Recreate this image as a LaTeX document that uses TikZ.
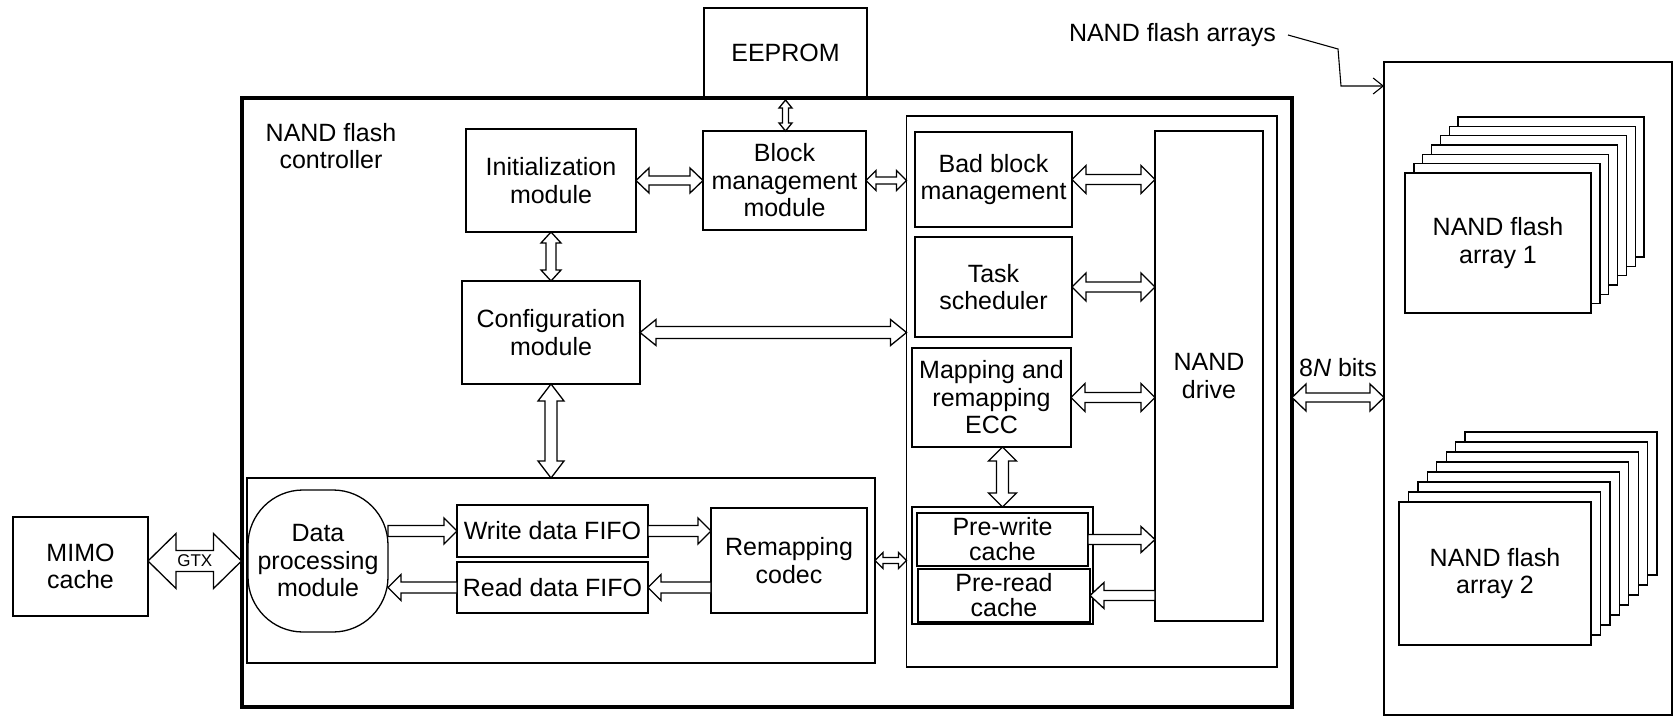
\documentclass[tikz,border=0pt]{standalone}
\usepackage{fontspec}
\setmainfont{Liberation Sans}
\usetikzlibrary{calc,arrows.meta}
\newcommand\mfs{\fontsize{25}{27.5}\selectfont}
\newcommand\cfs{\fontsize{25}{25}\selectfont}
% horizontal double-headed hollow arrow
\newcommand\hdbl[5]{\draw[blk] let \p1=(#1),\p2=(#2),\n1={sign(\x2-\x1)} in
 (\x1,\y1) -- ({\x1+(\n1)*#5},{\y1+#4}) -- ({\x1+(\n1)*#5},{\y1+#3}) -- ({\x2-(\n1)*#5},{\y1+#3}) -- ({\x2-(\n1)*#5},{\y1+#4}) -- (\x2,\y1) -- ({\x2-(\n1)*#5},{\y1-#4}) -- ({\x2-(\n1)*#5},{\y1-#3}) -- ({\x1+(\n1)*#5},{\y1-#3}) -- ({\x1+(\n1)*#5},{\y1-#4}) -- cycle;}
% vertical double-headed hollow arrow
\newcommand\vdbl[5]{\draw[blk] let \p1=(#1),\p2=(#2),\n1={sign(\y2-\y1)} in
 (\x1,\y1) -- ({\x1+#4},{\y1+(\n1)*#5}) -- ({\x1+#3},{\y1+(\n1)*#5}) -- ({\x1+#3},{\y2-(\n1)*#5}) -- ({\x1+#4},{\y2-(\n1)*#5}) -- (\x1,\y2) -- ({\x1-#4},{\y2-(\n1)*#5}) -- ({\x1-#3},{\y2-(\n1)*#5}) -- ({\x1-#3},{\y1+(\n1)*#5}) -- ({\x1-#4},{\y1+(\n1)*#5}) -- cycle;}
% horizontal single-headed hollow arrow (head at second point)
\newcommand\hsgl[5]{\draw[blk] let \p1=(#1),\p2=(#2),\n1={sign(\x2-\x1)} in
 (\x1,{\y1+#3}) -- ({\x2-(\n1)*#5},{\y1+#3}) -- ({\x2-(\n1)*#5},{\y1+#4}) -- (\x2,\y1) -- ({\x2-(\n1)*#5},{\y1-#4}) -- ({\x2-(\n1)*#5},{\y1-#3}) -- (\x1,{\y1-#3}) -- cycle;}
\begin{document}
\begin{tikzpicture}[x=1pt,y=-1pt,
  box/.style={draw, line width=1.3pt, inner sep=0pt, outer sep=0pt, align=center, font=\mfs},
  cont/.style={draw, line width=1.3pt, inner sep=0pt, outer sep=0pt},
  blk/.style={draw, fill=white, line width=1.3pt, line join=miter},
  lbl/.style={inner sep=0pt, outer sep=0pt, align=center, font=\mfs},
  layer/.style={draw, fill=white, line width=1.3pt}]
\useasboundingbox (0,0) rectangle (1675,718);

% containers
\node[cont, minimum width=288pt, minimum height=653pt] (arrbox) at (1528,388.5) {};
\node[cont, line width=4pt, minimum width=1050.5pt, minimum height=609pt] (outer) at (766.75,402.5) {};
\node[cont, minimum width=370.5pt, minimum height=551pt] (rbox) at (1091.75,391.5) {};
\node[cont, minimum width=628pt, minimum height=185pt] (dpbox) at (561,570.5) {};
\node[cont, line width=1.6pt, minimum width=181pt, minimum height=117pt] (cg) at (1002.5,565.5) {};

% blocks
\node[box, minimum width=163pt, minimum height=89pt] (eeprom) at (785.5,52.5) {EEPROM};
\node[lbl] (ctrl) at (331,146) {NAND flash\\controller};
\node[box, minimum width=170pt, minimum height=103pt] (init) at (551,180.5) {Initialization\\module};
\node[box, minimum width=163pt, minimum height=99pt] (block) at (784.5,180.5) {Block\\management\\module};
\node[box, minimum width=178pt, minimum height=103pt] (cfg) at (551,332.5) {Configuration\\module};
\node[box, minimum width=157pt, minimum height=95pt] (bad) at (993.5,179.5) {Bad block\\management};
\node[box, minimum width=157pt, minimum height=100pt] (task) at (993.5,287) {Task\\scheduler};
\node[box, minimum width=159pt, minimum height=99pt] (map) at (991.5,397.5) {Mapping and\\remapping\\ECC};
\node[box, line width=1.8pt, font=\cfs, minimum width=171pt, minimum height=53pt] (pw) at (1002.5,539.5) {Pre-write\\cache};
\node[box, line width=1.8pt, font=\cfs, minimum width=172pt, minimum height=53pt] (pr) at (1004,595.5) {Pre-read\\cache};
\node[box, minimum width=108pt, minimum height=490pt] (nand) at (1209,376) {NAND\\drive};
\node[box, rounded corners=55pt, minimum width=140pt, minimum height=142pt] (dp) at (318,561) {Data\\processing\\module};
\node[box, minimum width=191pt, minimum height=52pt] (wf) at (552.5,531) {Write data FIFO};
\node[box, minimum width=191pt, minimum height=51pt] (rf) at (552.5,587.5) {Read data FIFO};
\node[box, minimum width=156pt, minimum height=105pt] (codec) at (789,560.5) {Remapping\\codec};
\node[box, minimum width=135pt, minimum height=99pt] (mimo) at (80.5,566.5) {MIMO\\cache};

% flash array stacks
\foreach \i in {6,...,1}
  \draw[layer] ({1405+8.83*\i},{173-9.33*\i}) rectangle ++(186,140);
\node[box, fill=white, minimum width=186pt, minimum height=140pt] (arr1) at (1498,243) {NAND flash\\array 1};
\foreach \i in {7,...,1}
  \draw[layer] ({1399+9.43*\i},{502-10*\i}) rectangle ++(192,143);
\node[box, fill=white, minimum width=192pt, minimum height=143pt] (arr2) at (1495,573.5) {NAND flash\\array 2};

% label of the array box
\node[lbl, anchor=east] (arrlbl) at (1276,35) {NAND flash arrays};
\coordinate (k1) at (1338,49);
\coordinate (k2) at (1341,86);
\draw[line width=1.1pt, -{Straight Barb[length=10pt,width=16pt]}] ([xshift=12pt]arrlbl.east) -- (k1) -- (k2) -- (arrbox.west |- k2);

% hollow arrows
\vdbl{$(eeprom.south)+(0,3)$}{block.north}{3pt}{6.5pt}{8pt}
\hdbl{init.east}{block.west}{4.5pt}{12.5pt}{13pt}
\hdbl{block.east}{rbox.west |- block.east}{3.5pt}{10pt}{10pt}
\vdbl{init.south}{cfg.north}{5pt}{10pt}{11pt}
\hdbl{cfg.east}{rbox.west |- cfg.east}{6pt}{13pt}{16pt}
\vdbl{cfg.south}{dpbox.north -| cfg.south}{6pt}{13pt}{17pt}
\hdbl{bad.east}{nand.west |- bad.east}{5pt}{14pt}{14pt}
\hdbl{task.east}{nand.west |- task.east}{5pt}{14pt}{14pt}
\hdbl{map.east}{nand.west |- map.east}{5pt}{14pt}{14pt}
\vdbl{map.south -| cg.north}{cg.north}{6pt}{14pt}{14pt}
\hsgl{pw.east}{nand.west |- pw.east}{5pt}{13pt}{14pt}
\hsgl{nand.west |- pr.east}{pr.east}{5pt}{13pt}{14pt}
\hsgl{dp.east |- wf.west}{wf.west}{5.5pt}{13pt}{13pt}
\hsgl{wf.east}{codec.west |- wf.east}{5.5pt}{13pt}{13pt}
\hsgl{codec.west |- rf.east}{rf.east}{5.5pt}{13pt}{13pt}
\hsgl{rf.west}{dp.east |- rf.west}{5.5pt}{13pt}{13pt}
\hdbl{dpbox.east |- codec.east}{rbox.west |- codec.east}{3pt}{8pt}{8pt}
\hdbl{outer.east |- map.east}{arrbox.west |- map.east}{4.5pt}{13.5pt}{14pt}
\hdbl{mimo.east |- dp.west}{outer.west |- dp.west}{10.5pt}{27.5pt}{28pt}

% arrow labels
\node[inner sep=0pt, font=\fontsize{17}{17}\selectfont] (gtx) at ($(mimo.east |- dp.west)!0.5!(outer.west |- dp.west)$) {GTX};
\node[lbl] (bits) at ($(outer.east |- map.east)!0.5!(arrbox.west |- map.east)+(0,-30)$) {8\textit{N} bits};
\end{tikzpicture}
\end{document}
